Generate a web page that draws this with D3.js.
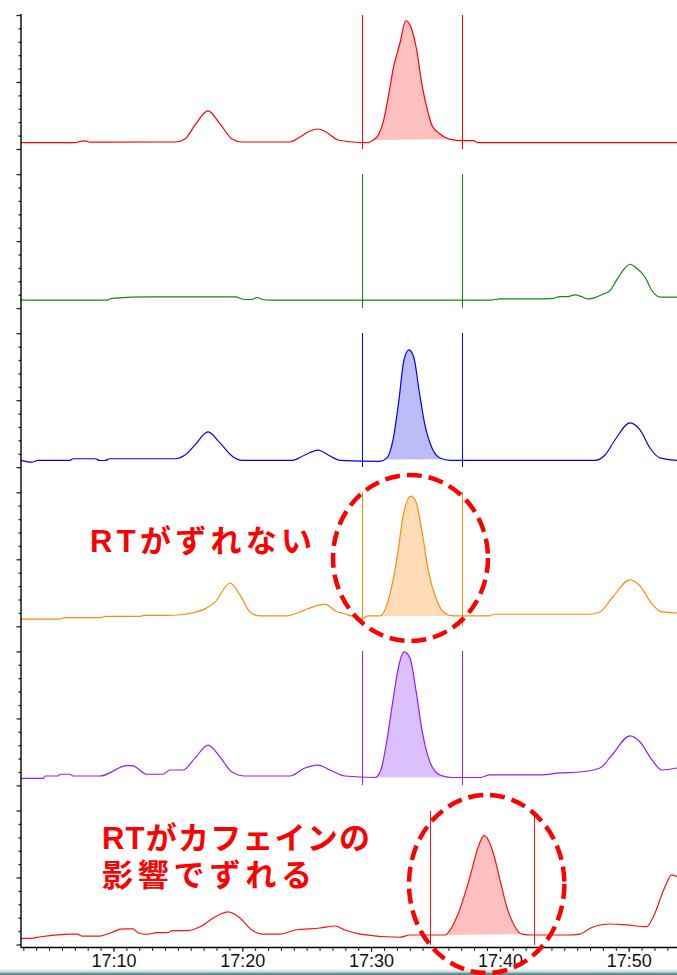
<!DOCTYPE html>
<html>
<head>
<meta charset="utf-8">
<script src="https://cdn.jsdelivr.net/npm/d3@7"></script>
<style>
  html, body { margin: 0; padding: 0; background: #ffffff; }
  svg { display: block; }
</style>
</head>
<body>
<svg id="chart" width="677" height="975"></svg>
<script>
// Retention time axis: minutes after 17:00
const xDomainMinutes = [2.82, 53.75];
const axisLabelsEvery = 10;

// Chromatogram traces, [minute, relative intensity %] per channel
const trace1 = [[2.82,4.7],[7.01,4.7],[7.40,5.6],[7.79,6.0],[8.18,5.1],[14.77,5.2],[15.55,7.5],[16.33,17.9],[17.34,28.4],[18.27,18.7],[19.20,7.5],[19.98,5.2],[23.70,5.2],[24.48,9.0],[25.26,13.4],[25.88,14.9],[26.50,12.7],[27.43,6.7],[28.36,5.4],[29.78,4.7],[30.17,6.7],[30.56,10.4],[30.95,20.4],[31.34,39.0],[31.72,60.2],[32.24,78.9],[32.69,95.7],[33.02,92.5],[33.54,73.9],[33.93,49.0],[34.44,26.6],[34.71,17.9],[35.35,11.2],[36.13,7.2],[37.11,6.2],[37.93,6.2],[38.32,4.7],[53.75,4.7]];
const trace2 = [[2.82,6.0],[9.50,6.0],[9.88,7.3],[12.84,8.3],[19.43,8.3],[20.20,6.4],[20.75,6.4],[21.14,7.9],[21.61,6.4],[22.15,6.0],[39.23,6.0],[40.01,6.8],[43.11,6.8],[44.15,7.3],[44.67,8.5],[45.19,8.5],[45.83,9.8],[46.35,8.5],[46.86,6.8],[47.38,7.8],[48.03,10.5],[48.55,13.0],[49.07,21.0],[49.58,28.4],[50.10,32.7],[50.62,29.7],[51.26,23.4],[51.78,13.5],[52.48,8.1],[53.75,8.1]];
const trace3 = [[2.82,5.1],[3.67,3.7],[4.13,5.1],[6.62,5.1],[6.86,6.3],[8.56,6.3],[8.95,5.0],[9.34,5.0],[9.73,6.3],[14.77,6.3],[15.55,9.1],[16.33,16.6],[17.34,26.3],[18.27,18.1],[19.20,8.4],[19.98,5.1],[23.86,5.1],[24.86,9.1],[25.88,12.8],[26.81,8.4],[27.58,5.1],[30.68,4.3],[31.23,6.9],[31.70,20.3],[32.16,50.1],[32.55,80.0],[32.94,87.5],[33.33,81.5],[33.72,57.6],[34.18,31.5],[34.73,14.3],[35.35,6.9],[36.13,5.1],[47.38,5.1],[48.16,9.1],[48.93,20.3],[50.10,33.0],[50.88,27.8],[51.65,14.3],[52.43,6.9],[53.75,5.1]];
const trace4 = [[2.82,5.4],[5.80,5.4],[6.20,6.5],[9.00,6.5],[9.40,7.4],[12.00,7.4],[12.40,8.2],[14.20,8.2],[15.20,8.6],[16.30,10.4],[17.10,13.0],[17.88,18.0],[19.05,32.3],[19.82,23.4],[20.60,10.7],[21.37,7.7],[23.40,7.7],[24.48,10.7],[25.64,15.1],[26.42,16.6],[27.33,10.9],[27.84,9.7],[28.62,7.2],[29.32,6.0],[29.78,7.7],[30.69,7.7],[31.07,12.2],[31.60,29.6],[31.99,49.5],[32.50,83.1],[33.07,97.2],[33.48,93.0],[33.93,71.9],[34.44,42.0],[35.09,19.6],[35.74,9.7],[36.38,7.7],[39.23,7.7],[39.49,9.0],[46.90,9.0],[47.77,10.7],[48.70,21.1],[50.10,34.6],[50.88,30.1],[51.81,16.6],[52.59,10.7],[53.75,9.9]];
const trace5 = [[2.82,5.3],[4.56,5.3],[4.69,7.0],[5.69,7.0],[5.85,8.3],[6.62,8.3],[6.86,7.0],[8.95,7.0],[11.05,14.7],[11.44,14.7],[12.60,8.3],[13.84,8.3],[14.39,11.5],[15.40,11.5],[16.33,20.4],[17.34,30.1],[18.27,21.2],[19.20,10.0],[20.20,7.0],[23.70,7.0],[24.86,13.0],[25.88,15.2],[26.81,11.5],[27.97,7.0],[30.29,5.9],[30.76,11.5],[31.23,33.9],[31.70,63.7],[32.16,89.8],[32.55,99.6],[33.02,95.1],[33.48,71.2],[33.95,41.3],[34.57,17.5],[35.35,7.8],[36.28,5.9],[38.45,5.9],[39.23,7.8],[43.11,7.8],[44.67,9.3],[46.22,10.0],[47.77,13.0],[48.70,22.7],[50.10,36.9],[50.88,32.4],[51.81,19.0],[52.59,11.5],[53.75,13.0]];
const trace6 = [[2.82,4.6],[3.59,4.6],[4.37,5.8],[6.70,7.8],[7.16,7.8],[7.55,6.3],[8.95,6.3],[9.81,8.8],[10.74,11.6],[11.51,11.6],[11.90,8.8],[12.60,7.6],[13.37,8.8],[14.15,8.8],[14.62,10.3],[15.71,10.3],[16.72,13.3],[17.88,20.5],[18.89,24.3],[19.82,19.8],[20.75,10.8],[21.53,7.8],[22.93,7.8],[24.09,10.8],[26.03,12.3],[27.20,13.8],[27.97,10.8],[29.14,7.8],[32.24,5.4],[33.02,7.1],[35.74,7.1],[36.13,10.8],[36.77,23.3],[37.68,50.6],[38.32,73.0],[38.77,81.2],[39.10,78.0],[39.49,68.1],[40.01,48.1],[40.53,28.2],[41.17,13.3],[41.69,7.8],[42.59,7.1],[45.19,7.1],[46.22,7.8],[47.00,12.1],[47.52,14.0],[48.55,15.3],[49.84,14.6],[51.40,13.3],[51.91,20.7],[52.82,43.1],[53.34,51.9],[53.75,50.6]];

// Integrated peak window [start, end] and the two retention-window markers per channel
const peakWindows = [[30.17,36.13],null,[31.00,35.80],[30.69,36.38],[30.29,36.28],[35.74,41.69]];
const markerTimes = [[29.32,37.11],[29.32,37.11],[29.32,37.11],[29.32,37.11],[29.32,37.11],[34.60,42.72]];

const lineColors = ["#ff0000","#108a10","#0000ff","#ff8c10","#8f1fff","#ff1010"];
const fillColors = ["#ffc0c0",null,"#bcbcf8","#ffdcb8","#dcc0fc","#ffc0c0"];

// Annotation texts
const note1 = ["RTがずれない"];
const note2 = ["RTがカフェインの","影響でずれる"];

const traces = [trace1, trace2, trace3, trace4, trace5, trace6];

const base = new Date(2000, 0, 1, 17, 0, 0).getTime();
const t = m => new Date(base + m * 60000);

const svg = d3.select("#chart");
const W = 677, H = 975;
const plotLeft = 21, plotRight = 677, axisY = 947;

const x = d3.scaleTime().domain(xDomainMinutes.map(t)).range([plotLeft, plotRight]);
const band = d3.scaleBand().domain(d3.range(traces.length)).range([15, 944.5]).paddingInner(0.158);

// window strip along the bottom edge
const grad = svg.append("defs").append("linearGradient")
  .attr("id", "strip").attr("x1", 0).attr("y1", 0).attr("x2", 0).attr("y2", 1);
grad.append("stop").attr("offset", "0%").attr("stop-color", "#eef4f4");
grad.append("stop").attr("offset", "45%").attr("stop-color", "#cfdede");
grad.append("stop").attr("offset", "75%").attr("stop-color", "#6f9a9a");
grad.append("stop").attr("offset", "100%").attr("stop-color", "#4f7f80");
svg.append("rect").attr("x", 0).attr("y", 969).attr("width", W).attr("height", 6).attr("fill", "url(#strip)");

traces.forEach((data, i) => {
  const top = band(i), h = band.bandwidth();
  const y = d3.scaleLinear().domain([0, 100]).range([top + h, top]);
  const g = svg.append("g");
  const curve = d3.line().curve(d3.curveMonotoneX).x(d => x(t(d[0]))).y(d => y(d[1]));

  // peak area between the trace and the straight integration baseline
  const win = peakWindows[i];
  if (win) {
    const interp = m => {
      for (let k = 1; k < data.length; k++) {
        if (data[k][0] >= m) {
          const a = data[k - 1], b = data[k];
          return a[1] + (b[1] - a[1]) * (m - a[0]) / (b[0] - a[0]);
        }
      }
      return data[data.length - 1][1];
    };
    const s = [win[0], interp(win[0])], e = [win[1], interp(win[1])];
    const inner = data.filter(d => d[0] > win[0] && d[0] < win[1]);
    const poly = [s, ...inner, e];
    g.append("path")
      .attr("d", curve(poly) + "Z")
      .attr("fill", fillColors[i]);
  }

  // retention-window markers
  markerTimes[i].forEach(m => {
    const mx = Math.floor(x(t(m))) + 0.5;
    g.append("line")
      .attr("x1", mx).attr("x2", mx)
      .attr("y1", top).attr("y2", top + h)
      .attr("stroke", lineColors[i]).attr("stroke-width", 1)
      .attr("shape-rendering", "crispEdges");
  });

  g.append("path")
    .datum(data)
    .attr("d", curve)
    .attr("fill", "none")
    .attr("stroke", lineColors[i])
    .attr("stroke-width", 1.2);

  // intensity ticks: long at 0/50/100, short every 10
  const major = svg.append("g").attr("transform", `translate(${plotLeft},0)`)
    .call(d3.axisLeft(y).tickValues([0, 50, 100]).tickSize(4.5).tickFormat(""));
  const minor = svg.append("g").attr("transform", `translate(${plotLeft},0)`)
    .call(d3.axisLeft(y).tickValues(d3.range(10, 100, 10).filter(v => v !== 50)).tickSize(2.5).tickFormat(""));
  [major, minor].forEach(a => {
    a.select(".domain").remove();
    a.selectAll("line").attr("stroke", "#222").attr("stroke-width", 1.3);
  });
});

// continuous left axis line
svg.append("line").attr("x1", plotLeft).attr("x2", plotLeft).attr("y1", 14).attr("y2", axisY + 1)
  .attr("stroke", "#000").attr("stroke-width", 1.4);

// time axis
const axMinor = svg.append("g").attr("transform", `translate(0,${axisY})`)
  .call(d3.axisBottom(x).ticks(d3.timeMinute.every(1)).tickSize(4).tickFormat("").tickSizeOuter(0));
const axMajor = svg.append("g").attr("transform", `translate(0,${axisY})`)
  .call(d3.axisBottom(x).ticks(d3.timeMinute.every(axisLabelsEvery)).tickSize(5).tickPadding(4)
    .tickFormat(d3.timeFormat("%H:%M")).tickSizeOuter(0));
axMinor.select(".domain").attr("stroke", "#000").attr("stroke-width", 1.3);
axMajor.select(".domain").remove();
svg.selectAll(".tick line").attr("stroke", "#222");
axMajor.selectAll("text")
  .attr("font-family", "'Liberation Sans', Arial, sans-serif")
  .attr("font-size", 18).attr("fill", "#111").attr("dy", "0.62em");

// annotations
const noteFont = "'Liberation Sans', 'Noto Sans CJK JP', sans-serif";
const noteColor = "#ff0000";
svg.append("text").attr("x", 90).attr("y", 552).text(note1[0])
  .attr("font-family", noteFont).attr("font-size", 31).attr("font-weight", 700)
  .attr("fill", noteColor).attr("textLength", 222).attr("lengthAdjust", "spacing");
const note2Widths = [268, 210];
note2.forEach((s, k) => {
  svg.append("text").attr("x", 102).attr("y", 849 + k * 37).text(s)
    .attr("font-family", noteFont).attr("font-size", 31).attr("font-weight", 700)
    .attr("fill", noteColor).attr("textLength", note2Widths[k]).attr("lengthAdjust", "spacing");
});

// dashed highlight rings
const rings = [
  { cx: 410.5, cy: 558, rx: 77.5, ry: 83 },
  { cx: 486.7, cy: 884, rx: 77.7, ry: 89 }
];
svg.selectAll("ellipse.ring").data(rings).join("ellipse")
  .attr("class", "ring")
  .attr("cx", d => d.cx).attr("cy", d => d.cy).attr("rx", d => d.rx).attr("ry", d => d.ry)
  .attr("fill", "none").attr("stroke", "#ff0000").attr("stroke-width", 4.5)
  .attr("stroke-dasharray", "15 7");
</script>
</body>
</html>
